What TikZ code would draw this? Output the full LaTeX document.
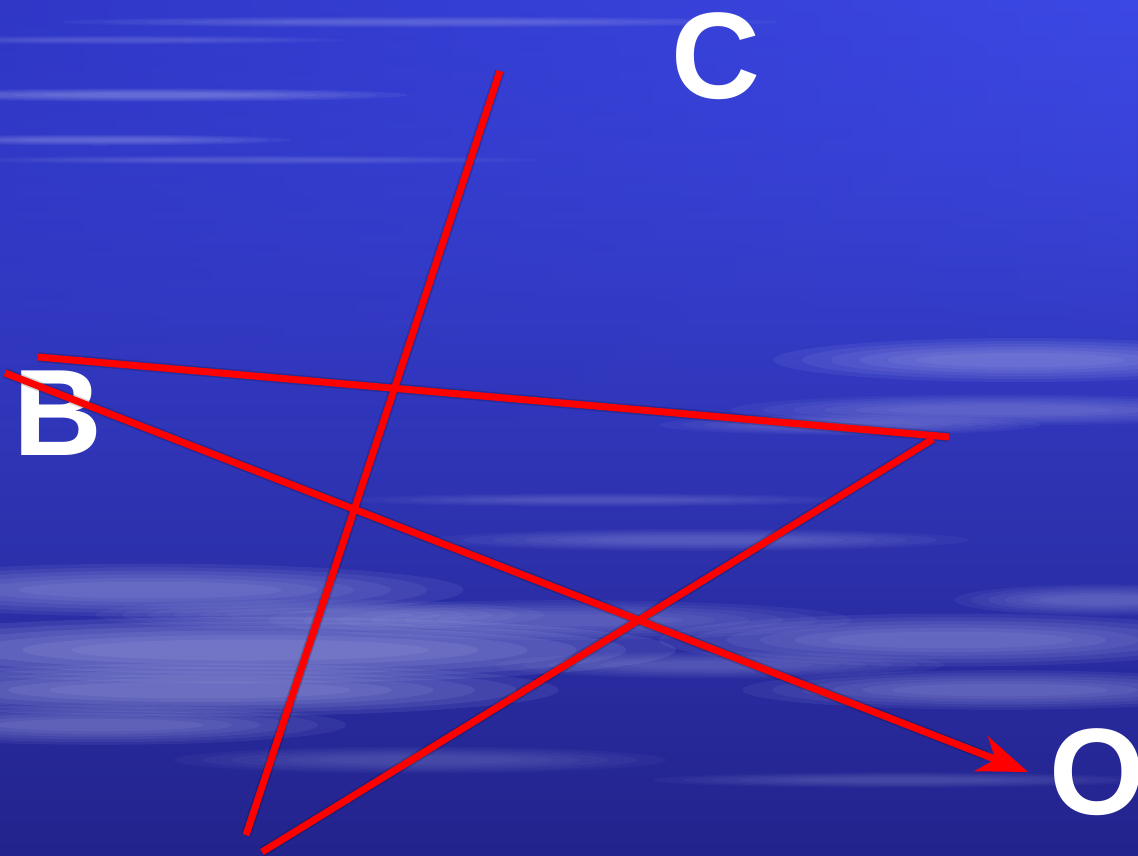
\documentclass[tikz,border=0pt]{standalone}
\usepackage{fontspec}
\setmainfont{Liberation Sans}
\usetikzlibrary{arrows.meta,calc,fadings}
\definecolor{skytop}{HTML}{3C48E4}
\definecolor{skymid}{HTML}{2426AA}
\definecolor{skylow}{HTML}{23238C}
\definecolor{haze}{HTML}{C8CCF4}
\definecolor{penred}{HTML}{FF0000}
\tikzset{
  letter/.style={text=white,font=\fontsize{123}{123}\selectfont\bfseries,inner sep=0pt},
  ray/.style={line width=7pt,draw=penred},
  rayshade/.style={line width=10pt,draw=black,opacity=0.18,shift={(3,3)}},
  arrowray/.style={ray,-{Stealth[length=50pt,width=37pt,inset=15pt]}},
}
\begin{document}
\begin{tikzpicture}[x=1pt,y=-1pt]
  \useasboundingbox (0,0) rectangle (1138,855);
  \clip (0,0) rectangle (1138,855);
  % sky
  \shade[top color=skytop,middle color=skymid,bottom color=skylow] (0,0) rectangle (1138,855);
  \shade[left color=skymid,right color=skytop,path fading=south,opacity=0.5] (0,0) rectangle (1138,420);
  % cloud streaks
  \foreach \cx/\cy/\rx/\ry/\op in {150/95/230/6/0.7, 420/22/320/5/0.5, 100/140/170/5/0.6, 250/160/260/4/0.4, 120/40/200/4/0.4,
      1020/360/220/20/0.8, 1000/410/240/14/0.6, 850/425/170/9/0.5,
      150/590/280/24/0.8, 250/650/380/30/1.0, 200/690/320/24/0.9, 100/725/220/18/0.7, 320/615/200/14/0.6,
      560/620/260/18/0.6, 700/540/240/10/0.5, 600/500/220/6/0.4, 720/665/200/12/0.5,
      950/640/260/24/0.8, 1000/690/230/18/0.7, 1100/600/130/14/0.6, 420/760/220/12/0.4, 900/780/220/7/0.4}
  {
    \foreach \k in {1,...,6}
      \fill[haze,opacity=0.1*\op] (\cx,\cy) ellipse ({\rx*(1.25-0.13*\k)} and {\ry*(1.25-0.15*\k)});
  }
  % letters
  \node[letter] (C) at (716,56) {C};
  \node[letter] (B) at (58,413) {B};
  \node[letter] (O) at (1097,772) {O};
  % end points
  \coordinate (c1) at (500,71);
  \coordinate (c2) at (246,835);
  \coordinate (b1) at (38,357);
  \coordinate (b2) at (949,437);
  \coordinate (b3) at (933,439);
  \coordinate (b4) at (262,852);
  \coordinate (o1) at (5,373);
  \coordinate (o2) at (1028,772);
  % shadows
  \draw[rayshade] (c1)--(c2); \draw[rayshade] (b1)--(b2); \draw[rayshade] (b3)--(b4);
  \draw[rayshade] (o1)--($(o2)!45pt!(o1)$);
  % rays
  \draw[ray] (c1)--(c2); \draw[ray] (b1)--(b2); \draw[ray] (b3)--(b4);
  \draw[arrowray] (o1)--(o2);
\end{tikzpicture}
\end{document}
